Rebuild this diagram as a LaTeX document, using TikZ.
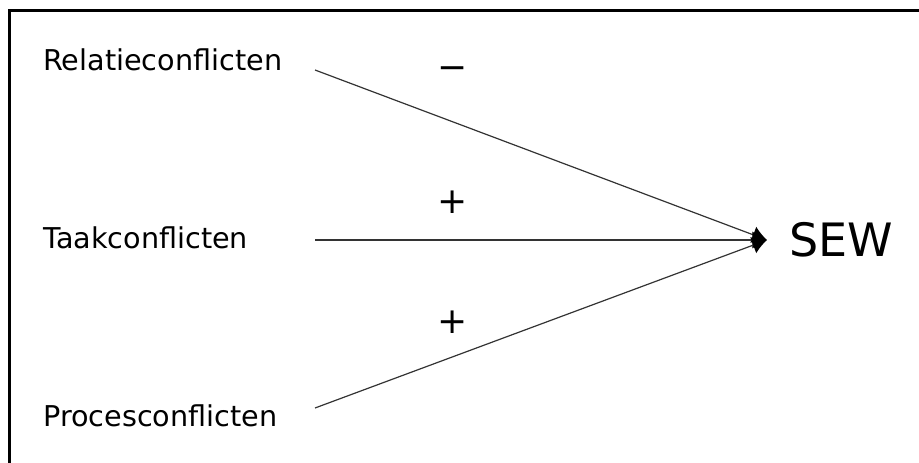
\documentclass[tikz,border=0pt]{standalone}
\usepackage{fontspec}
\setmainfont{DejaVu Sans}
\usetikzlibrary{arrows.meta}
\begin{document}
\begin{tikzpicture}[x=0.75pt,y=-0.75pt,
  lbl/.style={anchor=base west,inner sep=0pt,font=\fontsize{21.5}{24}\selectfont},
  sgn/.style={inner sep=0pt,font=\fontsize{27}{29}\selectfont},
  conn/.style={draw=black!80,line width=0.9pt,-{Latex[color=black,length=11pt,width=13pt]}}]
\useasboundingbox (0,0) rectangle (919,463);
\clip (0,0) rectangle (919,463);
\draw[line width=1.6pt] (9.5,10.5) rectangle (940,490);
\node[lbl] (rel) at (43,71) {Relatieconflicten};
\node[lbl] (taak) at (43,248) {Taakconflicten};
\node[lbl] (proc) at (43,426) {Procesconflicten};
\node[anchor=base west,inner sep=0pt,font=\fontsize{34.5}{38}\selectfont] (sew) at (789,256) {SEW};
\coordinate (rs) at (315,70);
\coordinate (ts) at (315,240);
\coordinate (ps) at (315,408);
\coordinate (tip) at (767,240);
\draw[conn] (rs) -- (tip);
\draw[conn] (ts) -- (tip);
\draw[conn] (ps) -- (tip);
\node[sgn] (m1) at (453,73) {−};
\node[sgn] (p1) at (453,202) {+};
\node[sgn] (p2) at (453,322) {+};
\end{tikzpicture}
\end{document}
